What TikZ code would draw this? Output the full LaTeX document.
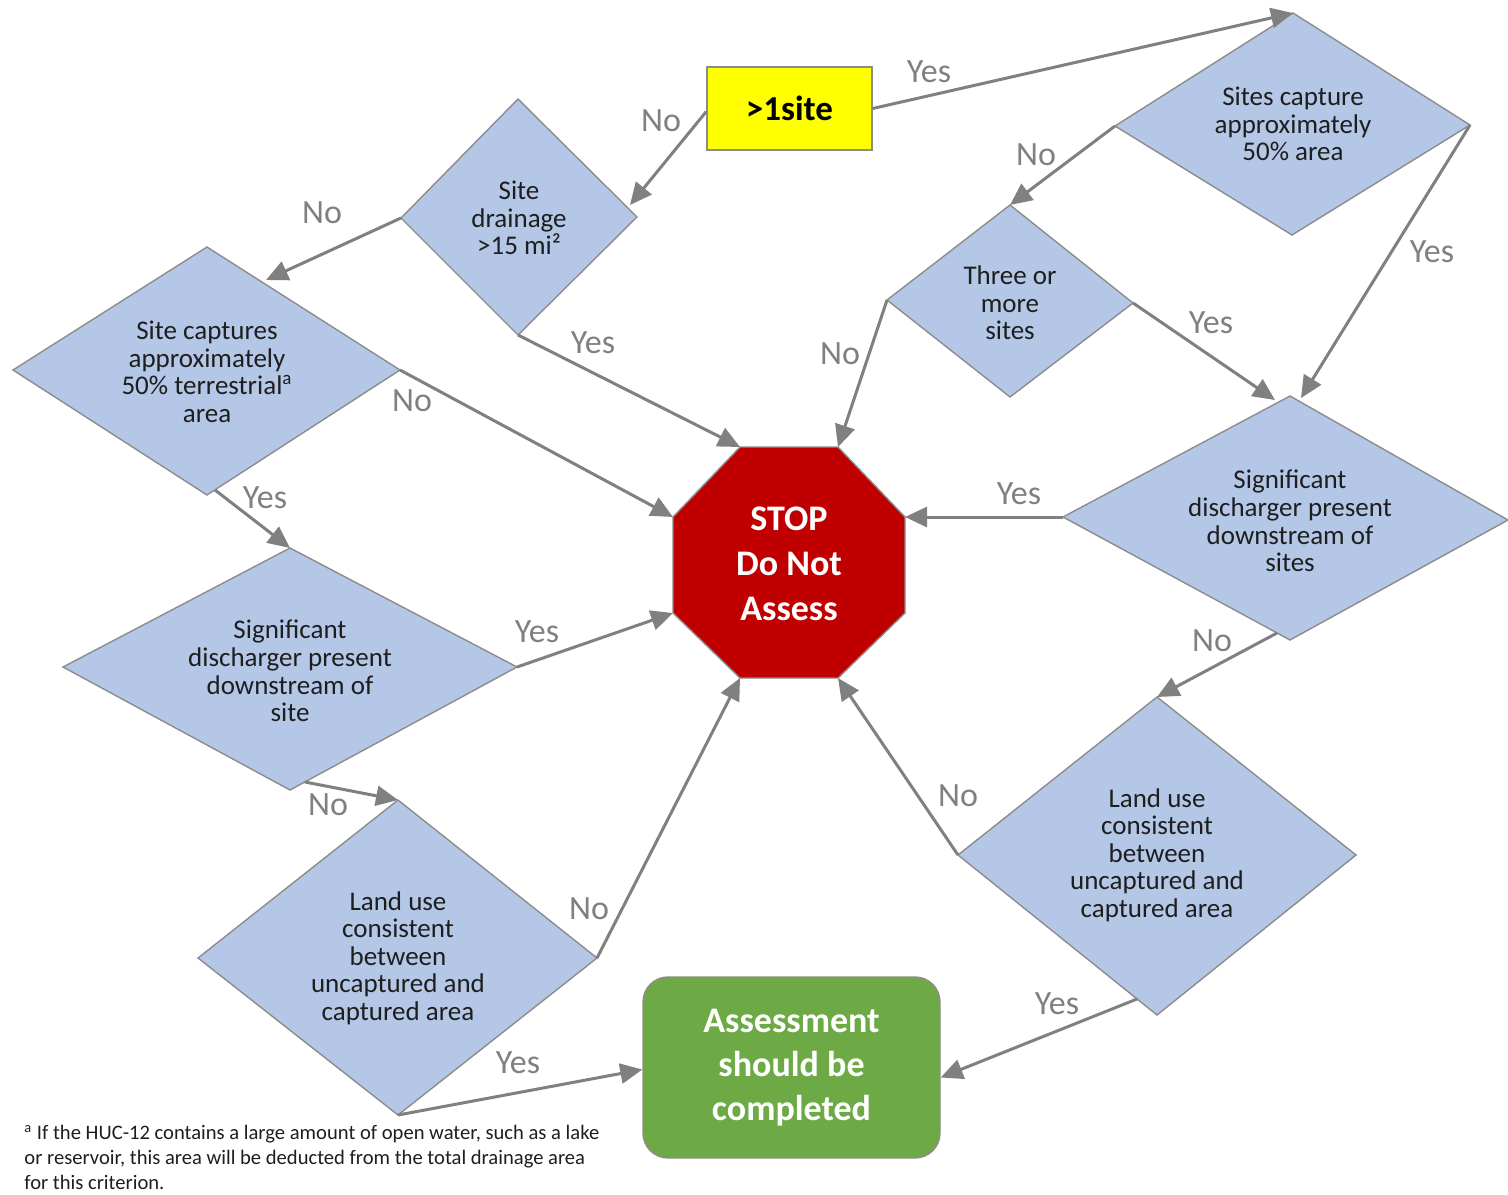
\documentclass[tikz,border=0pt]{standalone}
\usepackage{fontspec}
\setmainfont{Carlito}
\usetikzlibrary{arrows.meta,calc}
\definecolor{diafill}{HTML}{B4C7E7}
\definecolor{diaedge}{HTML}{8C8C8C}
\definecolor{linegray}{HTML}{808080}
\definecolor{stopred}{HTML}{C00000}
\definecolor{gofill}{HTML}{6DAA45}
\definecolor{yelfill}{HTML}{FFFF00}
\definecolor{txt}{HTML}{1E1E1E}
\newcommand\mydiamond[5]{%
  \coordinate (#1-t) at (#2);
  \coordinate (#1-r) at (#3);
  \coordinate (#1-b) at (#4);
  \coordinate (#1-l) at (#5);
  \draw[dshape] (#1-t)--(#1-r)--(#1-b)--(#1-l)--cycle;}
\begin{document}
\begin{tikzpicture}[x=0.5pt,y=-0.5pt,
  dshape/.style={fill=diafill, draw=diaedge, line width=0.7pt},
  dtext/.style={align=center, text=txt, inner sep=0pt, font=\fontsize{13.5}{13.8}\selectfont},
  conn/.style={draw=linegray, line width=1.5pt, -{Triangle[length=11pt,width=10pt]}},
  lbl/.style={text=linegray, inner sep=0pt, font=\fontsize{17}{17}\selectfont},
  endbox/.style={draw=diaedge, line width=0.7pt, align=center, inner sep=0pt},
]
\useasboundingbox (0,0) rectangle (1508,1194);

% decision diamonds
\mydiamond{A}{518,99}{637,217}{518,335}{401,218}
\mydiamond{B}{1293,13}{1470,125}{1292,235}{1115,126}
\mydiamond{C}{1010,205}{1133,303}{1010,397}{887,300}
\mydiamond{D}{207,247}{400,370}{207,495}{13,370}
\mydiamond{E}{1290,396}{1508,520}{1290,640}{1063,517}
\mydiamond{F}{290,548}{517,667}{290,790}{63,667}
\mydiamond{G}{398,800}{597,958}{398,1115}{198,958}
\mydiamond{H}{1157,697}{1356,855}{1157,1015}{958,855}

\node[dtext] (At) at (519,218) {Site\\drainage\\>15 mi²};
\node[dtext] (Bt) at (1293,124) {Sites capture\\approximately\\50\% area};
\node[dtext] (Ct) at (1010,303) {Three or\\more\\sites};
\node[dtext] (Dt) at (207,372) {Site captures\\approximately\\50\% terrestrial\textsuperscript{a}\\area};
\node[dtext] (Et) at (1290,521) {Significant\\discharger present\\downstream of\\sites};
\node[dtext] (Ft) at (290,671) {Significant\\discharger present\\downstream of\\site};
\node[dtext] (Gt) at (398,958) {Land use\\consistent\\between\\uncaptured and\\captured area};
\node[dtext] (Ht) at (1157,855) {Land use\\consistent\\between\\uncaptured and\\captured area};

% start box
\node[endbox, fill=yelfill, minimum width=82.5pt, minimum height=41.5pt,
      font=\fontsize{17.5}{17.5}\selectfont\bfseries] (Y) at (789.5,108.5) {>1site};

% stop octagon
\coordinate (S-1) at (740,447);
\coordinate (S-2) at (838,447);
\coordinate (S-3) at (905,517);
\coordinate (S-4) at (905,613);
\coordinate (S-5) at (838,678);
\coordinate (S-6) at (740,678);
\coordinate (S-7) at (673,613);
\coordinate (S-8) at (673,517);
\draw[fill=stopred, draw=diaedge, line width=0.7pt]
  (S-1)--(S-2)--(S-3)--(S-4)--(S-5)--(S-6)--(S-7)--(S-8)--cycle;
\node[align=center, text=white, inner sep=0pt, font=\fontsize{18}{22.5}\selectfont\bfseries]
  (S) at (789,564) {STOP\\Do Not\\Assess};

% completion box
\node[endbox, fill=gofill, rounded corners=12.5pt, minimum width=148.5pt, minimum height=90.5pt,
      text=white, font=\fontsize{18}{22}\selectfont\bfseries] (Z) at (791.5,1067.5)
      {Assessment\\should be\\completed};

% connector end points on edges
\coordinate (A-in) at (630,205);
\coordinate (D-in) at (266,280);
\coordinate (D-out) at (215,490);
\coordinate (E-in1) at (1275,400);
\coordinate (E-in2) at (1301,398);
\coordinate (E-out) at (1277,633);
\coordinate (F-out) at (305,782);
\coordinate (H-out) at (1137,999);

% connectors
\draw[conn] ([yshift=-1.5pt]Y.west) -- (A-in);
\draw[conn] (Y.east) -- (B-t);
\draw[conn] (A-l) -- (D-in);
\draw[conn] (A-b) -- (S-1);
\draw[conn] (B-l) -- (C-t);
\draw[conn] (B-r) -- (E-in2);
\draw[conn] (C-l) -- (S-2);
\draw[conn] (C-r) -- (E-in1);
\draw[conn] (D-r) -- (S-8);
\draw[conn] (D-out) -- (F-t);
\draw[conn] (E-l) -- (S-3);
\draw[conn] (E-out) -- (H-t);
\draw[conn] (F-r) -- (S-7);
\draw[conn] (F-out) -- (G-t);
\draw[conn] (G-r) -- (S-6);
\draw[conn] (G-b) -- ([yshift=-1pt]Z.west);
\draw[conn] (H-l) -- (S-5);
\draw[conn] (H-out) -- ([yshift=-5pt]Z.east);

% labels
\node[lbl] (l1) at (661,121) {No};
\node[lbl] (l2) at (929,72) {Yes};
\node[lbl] (l3) at (322,213) {No};
\node[lbl] (l4) at (593,343) {Yes};
\node[lbl] (l5) at (1036,155) {No};
\node[lbl] (l6) at (1432,252) {Yes};
\node[lbl] (l7) at (840,354) {No};
\node[lbl] (l8) at (1211,323) {Yes};
\node[lbl] (l9) at (412,401) {No};
\node[lbl] (l10) at (265,498) {Yes};
\node[lbl] (l11) at (1019,494) {Yes};
\node[lbl] (l12) at (1212,641) {No};
\node[lbl] (l13) at (537,632) {Yes};
\node[lbl] (l14) at (328,805) {No};
\node[lbl] (l15) at (589,909) {No};
\node[lbl] (l16) at (518,1063) {Yes};
\node[lbl] (l17) at (958,796) {No};
\node[lbl] (l18) at (1057,1004) {Yes};

% footnote
\node[anchor=north west, align=left, inner sep=0pt, text=txt,
      font=\fontsize{10.3}{12.5}\selectfont] (fn) at (24,1125)
  {\textsuperscript{a} If the HUC-12 contains a large amount of open water, such as a lake\\
   or reservoir, this area will be deducted from the total drainage area\\
   for this criterion.};
\end{tikzpicture}
\end{document}
